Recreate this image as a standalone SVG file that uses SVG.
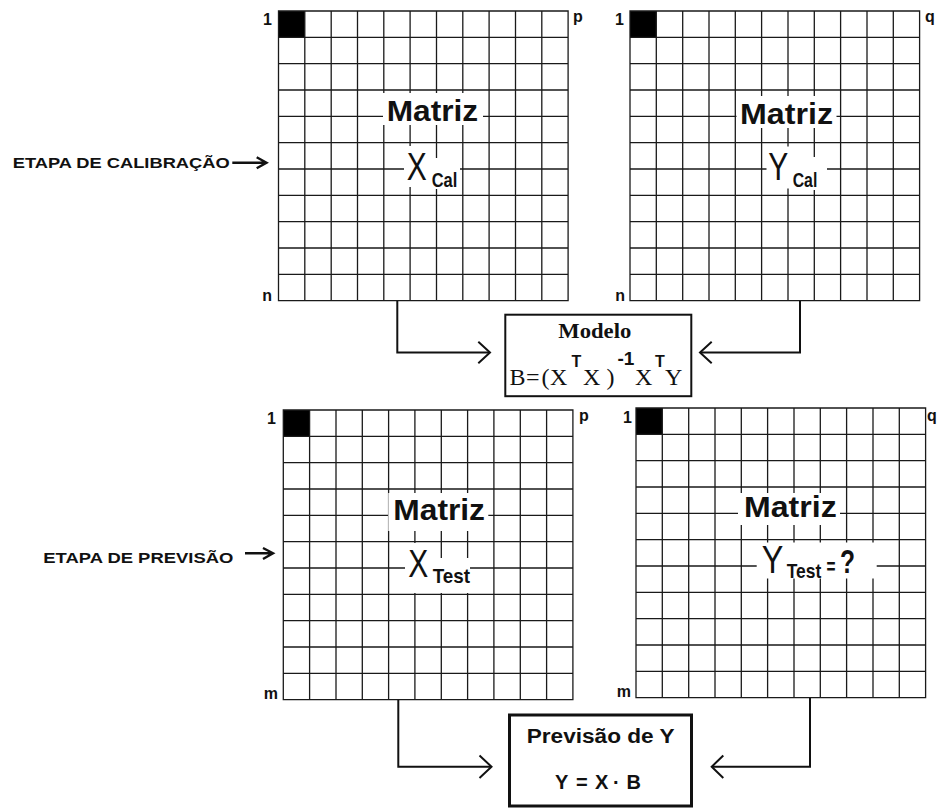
<svg xmlns="http://www.w3.org/2000/svg" xmlns:xlink="http://www.w3.org/1999/xlink" width="940" height="808" viewBox="0 0 940 808">
<style>
.gl{fill:none;stroke:#1a1a1a;stroke-width:1.3;stroke-linecap:square}
.lbl{font-family:"Liberation Sans",Arial,sans-serif;font-weight:bold;font-size:16px;fill:#111}
.mat{font-family:"Liberation Sans",Arial,sans-serif;font-weight:bold;font-size:29px;fill:#111}
.big{font-family:"Liberation Sans",Arial,sans-serif;font-size:38px;fill:#111}
.sub{font-family:"Liberation Sans",Arial,sans-serif;font-weight:bold;font-size:21px;fill:#111}
.stage{font-family:"Liberation Sans",Arial,sans-serif;font-weight:bold;font-size:15.5px;fill:#111}
.ser{font-family:"Liberation Serif","Times New Roman",serif;fill:#111}
.sans{font-family:"Liberation Sans",Arial,sans-serif;font-weight:bold;fill:#111}
.wb{fill:#fff}
.conn{fill:none;stroke:#111;stroke-width:2}
.arr{fill:none;stroke:#111;stroke-width:2.4}
.box{fill:#fff;stroke:#111}
</style>
<defs>
<g id="grid">
<rect x="0" y="0" width="26.3" height="26.3" fill="#000"/>
<path class="gl" d="M0 0V289.6M26.3 0V289.6M52.7 0V289.6M79 0V289.6M105.3 0V289.6M131.6 0V289.6M158 0V289.6M184.3 0V289.6M210.6 0V289.6M237 0V289.6M263.3 0V289.6M289.6 0V289.6M0 0H289.6M0 26.3H289.6M0 52.7H289.6M0 79H289.6M0 105.3H289.6M0 131.6H289.6M0 158H289.6M0 184.3H289.6M0 210.6H289.6M0 237H289.6M0 263.3H289.6M0 289.6H289.6"/>
</g>
</defs>

<g id="stage-calibracao">
<text class="stage" x="12.7" y="168.3" textLength="217" lengthAdjust="spacingAndGlyphs">ETAPA DE CALIBRAÇÃO</text>
<path class="arr" d="M232.3 162.7H266M256.7 157.3L266.5 162.7L256.7 168.3"/>
</g>
<g id="stage-previsao">
<text class="stage" x="43.3" y="563.3" textLength="190" lengthAdjust="spacingAndGlyphs">ETAPA DE PREVISÃO</text>
<path class="arr" d="M245 553.3H272.5M263 548L273 553.3L263 559"/>
</g>

<g id="matrix-xcal">
<use xlink:href="#grid" href="#grid" x="278.5" y="11"/>
<rect class="wb" x="383" y="93" width="100" height="32"/>
<rect class="wb" x="404" y="146" width="27" height="41"/>
<rect class="wb" x="431" y="158" width="29" height="31"/>
<text class="mat" x="386.7" y="120.7" textLength="91.5" lengthAdjust="spacingAndGlyphs">Matriz</text>
<text class="big" x="406.7" y="180" textLength="20" lengthAdjust="spacingAndGlyphs">X</text>
<text class="sub" x="431.7" y="186.7" textLength="25.6" lengthAdjust="spacingAndGlyphs">Cal</text>
<text class="lbl" x="272" y="25" text-anchor="end">1</text>
<text class="lbl" x="272" y="300.5" text-anchor="end">n</text>
<text class="lbl" x="573" y="22">p</text>
</g>

<g id="matrix-ycal">
<use xlink:href="#grid" href="#grid" x="630" y="11"/>
<rect class="wb" x="736.5" y="96" width="100" height="32"/>
<rect class="wb" x="766.5" y="146.5" width="26" height="42"/>
<rect class="wb" x="790" y="157" width="37" height="33"/>
<text class="mat" x="740" y="124" textLength="93" lengthAdjust="spacingAndGlyphs">Matriz</text>
<text class="big" x="768.3" y="180" textLength="20" lengthAdjust="spacingAndGlyphs">Y</text>
<text class="sub" x="792.7" y="186.7" textLength="24.6" lengthAdjust="spacingAndGlyphs">Cal</text>
<text class="lbl" x="624" y="25" text-anchor="end">1</text>
<text class="lbl" x="625" y="300.5" text-anchor="end">n</text>
<text class="lbl" x="925" y="22">q</text>
</g>

<g id="matrix-xtest">
<use xlink:href="#grid" href="#grid" x="283.3" y="410"/>
<rect class="wb" x="388.3" y="493" width="100" height="38"/>
<rect class="wb" x="405" y="543" width="28" height="50"/>
<rect class="wb" x="433" y="558" width="37" height="35"/>
<text class="mat" x="393.3" y="520" textLength="91.7" lengthAdjust="spacingAndGlyphs">Matriz</text>
<text class="big" x="408.3" y="576.7" textLength="20" lengthAdjust="spacingAndGlyphs">X</text>
<text class="sub" x="432.7" y="582.7" textLength="37.3" lengthAdjust="spacingAndGlyphs">Test</text>
<text class="lbl" x="276" y="424" text-anchor="end">1</text>
<text class="lbl" x="278" y="699" text-anchor="end">m</text>
<text class="lbl" x="579" y="421">p</text>
</g>

<g id="matrix-ytest">
<use xlink:href="#grid" href="#grid" x="636" y="408"/>
<rect class="wb" x="738" y="493" width="102" height="32"/>
<rect class="wb" x="756.7" y="542.5" width="120" height="36"/>
<text class="mat" x="744" y="516.7" textLength="92.7" lengthAdjust="spacingAndGlyphs">Matriz</text>
<text class="big" x="761.7" y="573.3" textLength="21.6" lengthAdjust="spacingAndGlyphs">Y</text>
<text class="sub" x="786.7" y="578.3" textLength="34.5" lengthAdjust="spacingAndGlyphs">Test</text>
<text class="sans" x="826.5" y="574" font-size="22" textLength="9" lengthAdjust="spacingAndGlyphs">=</text>
<text class="sans" x="840" y="573.3" font-size="34" textLength="15" lengthAdjust="spacingAndGlyphs">?</text>
<text class="lbl" x="632" y="423" text-anchor="end">1</text>
<text class="lbl" x="631" y="697" text-anchor="end">m</text>
<text class="lbl" x="927" y="421">q</text>
</g>

<g id="connectors">
<path class="conn" d="M397.3 301V352.5H489"/>
<path class="conn" d="M478.3 341.7L490 352.5L478.3 363.3"/>
<path class="conn" d="M800 301V352.5H701"/>
<path class="conn" d="M711.7 341.7L700 352.5L711.7 363.3"/>
<path class="conn" d="M398.3 700V766.7H490.5"/>
<path class="conn" d="M479.5 755.5L491.5 766.7L479.5 778"/>
<path class="conn" d="M810 698V766.7H713"/>
<path class="conn" d="M723.3 755.5L711.7 766.7L723.3 778"/>
</g>

<g id="modelo">
<rect class="box" x="505.3" y="314.7" width="186" height="81.5" stroke-width="2"/>
<text class="ser" x="558.3" y="338.3" font-size="20" font-weight="bold" textLength="73" lengthAdjust="spacingAndGlyphs">Modelo</text>
<text class="ser" font-size="24" y="385"><tspan x="509.5">B</tspan><tspan x="526">=</tspan><tspan x="541.5">(</tspan><tspan x="550">X</tspan><tspan x="583">X</tspan><tspan x="606.5">)</tspan><tspan x="635">X</tspan><tspan x="665">Y</tspan></text>
<text class="sans" font-size="16" y="366.7"><tspan x="571.5">T</tspan><tspan x="655">T</tspan></text>
<text class="sans" font-size="19" y="365"><tspan x="617.5">-1</tspan></text>
</g>

<g id="previsao">
<rect class="box" x="509.5" y="715" width="182" height="91" stroke-width="3"/>
<text class="sans" x="526.7" y="743.3" font-size="19.5" textLength="148" lengthAdjust="spacingAndGlyphs">Previsão de Y</text>
<text class="sans" font-size="20" y="789.3"><tspan x="555">Y</tspan><tspan x="576">=</tspan><tspan x="595">X</tspan><tspan x="613">·</tspan><tspan x="626.5">B</tspan></text>
</g>
</svg>
